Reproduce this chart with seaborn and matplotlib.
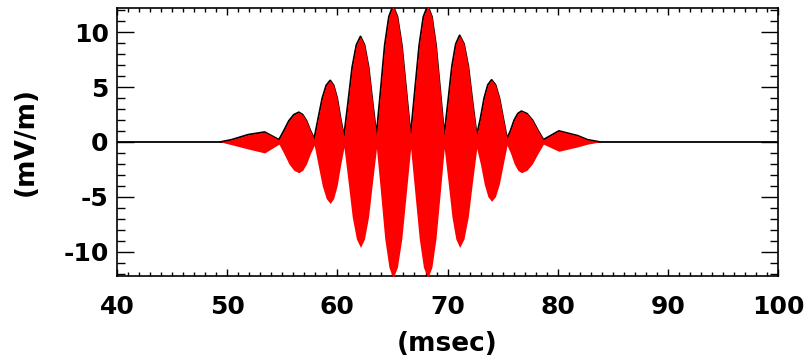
import numpy as np
import pandas as pd
import matplotlib
matplotlib.use("Agg")
import matplotlib.pyplot as plt
from matplotlib.ticker import MultipleLocator
import seaborn as sns

# ============================
# DADOS (envelope)
# ============================
t_env = [49.4, 50.4, 51.9, 53.4, 54.7,
         55.15, 55.6, 56.05, 56.5, 56.85, 57.2, 57.55, 57.9,
         58.26, 58.63, 58.99, 59.35, 59.66, 59.98, 60.29, 60.6,
         60.98, 61.35, 61.73, 62.1, 62.46, 62.83, 63.19, 63.55,
         63.93, 64.3, 64.68, 65.05, 65.45, 65.85, 66.25, 66.65,
         67.04, 67.43, 67.81, 68.2, 68.58, 68.95, 69.33, 69.7,
         70.05, 70.4, 70.75, 71.1, 71.49, 71.88, 72.26, 72.65,
         72.99, 73.33, 73.66, 74.0, 74.35, 74.7, 75.05, 75.4,
         75.73, 76.05, 76.38, 76.7, 77.2, 77.7, 78.2, 78.7,
         80.1, 81.8, 82.7, 83.8]
env_upper = [0.0, 0.2, 0.66, 0.9, 0.2,
             1.03, 1.92, 2.48, 2.7, 2.48, 1.92, 1.03, 0.3,
             2.13, 3.98, 5.15, 5.6, 5.15, 3.98, 2.13, 0.5,
             3.65, 6.82, 8.83, 9.6, 8.83, 6.82, 3.65, 0.6,
             4.71, 8.8, 11.4, 12.4, 11.4, 8.8, 4.71, 0.6,
             4.71, 8.8, 11.4, 12.4, 11.4, 8.8, 4.71, 0.6,
             3.69, 6.89, 8.92, 9.7, 8.92, 6.89, 3.69, 0.6,
             2.15, 4.01, 5.2, 5.65, 5.2, 4.01, 2.15, 0.3,
             1.06, 1.99, 2.58, 2.8, 2.58, 1.99, 1.06, 0.2,
             1.0, 0.57, 0.2, 0.0]
env_lower = [0.0, -0.25, -0.64, -1.0, -0.2,
             -1.06, -1.99, -2.58, -2.8, -2.58, -1.99, -1.06, -0.3,
             -2.13, -3.98, -5.15, -5.6, -5.15, -3.98, -2.13, -0.5,
             -3.65, -6.82, -8.83, -9.6, -8.83, -6.82, -3.65, -0.6,
             -4.71, -8.8, -11.4, -12.4, -11.4, -8.8, -4.71, -0.6,
             -4.71, -8.8, -11.4, -12.4, -11.4, -8.8, -4.71, -0.6,
             -3.65, -6.82, -8.83, -9.6, -8.83, -6.82, -3.65, -0.6,
             -2.05, -3.83, -4.97, -5.4, -4.97, -3.83, -2.05, -0.3,
             -1.06, -1.99, -2.58, -2.8, -2.58, -1.99, -1.06, -0.2,
             -0.85, -0.45, -0.2, 0.0]

baseline_t = [40, 100]
baseline_v = [0, 0]

xlim = (40, 100)
ylim = (-12.2, 12.2)
x_ticks = [40, 50, 60, 70, 80, 90, 100]
y_ticks = [-10, -5, 0, 5, 10]

df = pd.DataFrame({'t': t_env, 'hi': env_upper, 'lo': env_lower})

# ============================
# ESTILO
# ============================
sns.set_style("ticks")
plt.rcParams['font.family'] = ['DejaVu Sans']
plt.rcParams['font.weight'] = 'bold'
plt.rcParams['axes.unicode_minus'] = False
plt.rcParams['text.color'] = 'black'
plt.rcParams['axes.labelcolor'] = 'black'
plt.rcParams['xtick.color'] = 'black'
plt.rcParams['ytick.color'] = 'black'

fig = plt.figure(figsize=(8.08, 3.61), dpi=100)
ax = fig.add_axes([0.1448, 0.2355, 0.963 - 0.1448, 0.978 - 0.2355])

# linha de base e contorno superior em preto
sns.lineplot(x=baseline_t, y=baseline_v, ax=ax, color='black', lw=1.3, zorder=1)
sns.lineplot(data=df, x='t', y='hi', ax=ax, color='black', lw=1.4, zorder=2,
             estimator=None, sort=False)
# sinal (envelope preenchido) em vermelho
ax.fill_between(df['t'], df['lo'], df['hi'], color='#ff0000', lw=0, zorder=3)

ax.set_xlim(*xlim)
ax.set_ylim(*ylim)
ax.set_xticks(x_ticks)
ax.set_yticks(y_ticks)
ax.xaxis.set_minor_locator(MultipleLocator(1))
ax.yaxis.set_minor_locator(MultipleLocator(1))

ax.tick_params(axis='x', which='major', direction='in', length=5, width=1.0,
               top=True, pad=14, labelsize=18, colors='black')
ax.tick_params(axis='x', which='minor', direction='in', length=2.7, width=1.0, top=True)
ax.tick_params(axis='y', which='major', direction='in', length=12, width=1.0,
               right=True, pad=6, labelsize=18, colors='black')
ax.tick_params(axis='y', which='minor', direction='in', length=6, width=1.0, right=True)

for lab in ax.get_xticklabels() + ax.get_yticklabels():
    lab.set_fontweight('bold')

for s in ax.spines.values():
    s.set_linewidth(1.2)
    s.set_color('black')

ax.set_xlabel('(msec)', fontsize=19, fontweight='bold', labelpad=8, color='black')
ax.set_ylabel('(mV/m)', fontsize=19, fontweight='bold', labelpad=18, color='black')

fig.savefig('out.png', dpi=100)
